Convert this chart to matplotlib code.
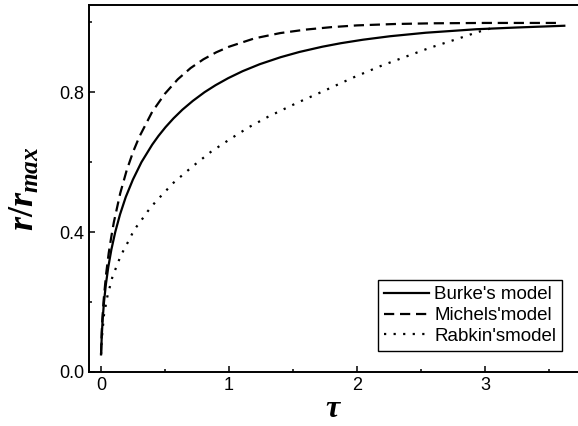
import matplotlib
matplotlib.use("Agg")
import matplotlib.pyplot as plt
from matplotlib.ticker import MultipleLocator

# datos (tau, r/rmax)
tau_burke = [0.0, 0.0054, 0.0125, 0.0231, 0.0377, 0.0567, 0.0808, 0.111, 0.148,
             0.193, 0.249, 0.316, 0.40, 0.449, 0.504, 0.566, 0.636, 0.717, 0.809,
             0.895, 0.993, 1.106, 1.240, 1.403, 1.550, 1.729, 1.873, 2.046, 2.259,
             2.537, 2.932, 3.25, 3.62]
r_burke = [0.05, 0.10, 0.15, 0.20, 0.25, 0.30, 0.35, 0.40, 0.45,
           0.50, 0.55, 0.60, 0.65, 0.675, 0.70, 0.725, 0.75, 0.775, 0.80,
           0.82, 0.84, 0.86, 0.88, 0.90, 0.915, 0.93, 0.94, 0.95, 0.96,
           0.97, 0.98, 0.985, 0.99]

tau_michels = [0.0, 0.005, 0.01, 0.02, 0.04, 0.06, 0.08, 0.1, 0.15, 0.2, 0.25, 0.3,
               0.4, 0.5, 0.6, 0.7, 0.8, 0.9, 1.0, 1.2, 1.4, 1.6, 1.8, 2.0, 2.3, 2.6,
               3.0, 3.3, 3.6]
r_michels = [0.05, 0.112, 0.149, 0.204, 0.281, 0.340, 0.386, 0.428, 0.511, 0.576,
             0.629, 0.673, 0.744, 0.796, 0.837, 0.869, 0.894, 0.914, 0.930, 0.954,
             0.969, 0.979, 0.986, 0.991, 0.995, 0.997, 0.998, 0.998, 0.998]

tau_rabkin = [0.0, 0.005, 0.023, 0.049, 0.089, 0.115, 0.146, 0.18, 0.219, 0.258,
              0.31, 0.362, 0.427, 0.492, 0.56, 0.713, 0.857, 1.013, 1.156, 1.307,
              1.529, 1.75, 1.971, 2.193, 2.414, 2.57, 2.79, 2.935, 3.05]
r_rabkin = [0.05, 0.09, 0.163, 0.215, 0.272, 0.296, 0.325, 0.351, 0.377, 0.406,
            0.431, 0.458, 0.487, 0.512, 0.539, 0.587, 0.629, 0.667, 0.70, 0.73,
            0.769, 0.805, 0.842, 0.876, 0.906, 0.927, 0.953, 0.971, 0.983]

plt.rcParams["mathtext.fontset"] = "custom"
plt.rcParams["mathtext.it"] = "Liberation Serif:italic:bold"
plt.rcParams["mathtext.rm"] = "Liberation Serif:bold"
plt.rcParams["font.family"] = "Liberation Sans"

fig = plt.figure(figsize=(5.78, 4.26), dpi=100)
ax = fig.add_axes([0.154, 0.127, 0.846, 0.861])

ax.plot(tau_burke, r_burke, color="black", lw=1.6, ls="-", label="Burke's model")
ax.plot(tau_michels, r_michels, color="black", lw=1.6, ls=(0, (4.6, 2.6)), label="Michels'model")
ax.plot(tau_rabkin, r_rabkin, color="black", lw=1.6, ls=(0, (1, 3.3)), label="Rabkin'smodel")

ax.set_xlim(-0.094, 3.727)
ax.set_ylim(0, 1.049)
ax.xaxis.set_major_locator(MultipleLocator(1))
ax.xaxis.set_minor_locator(MultipleLocator(0.5))
ax.yaxis.set_major_locator(MultipleLocator(0.4))
ax.yaxis.set_minor_locator(MultipleLocator(0.2))
ax.tick_params(which="major", direction="in", length=4, width=1.1, labelsize=13)
ax.tick_params(which="minor", direction="in", length=2.5, width=1.1)

ax.spines["right"].set_visible(False)
for s in ["left", "bottom", "top"]:
    ax.spines[s].set_linewidth(1.4)

ax.set_xlabel(r"$\tau$", fontsize=23, labelpad=0)
ax.set_ylabel(r"$r/r_{max}$", fontsize=26, labelpad=12)

leg = ax.legend(loc="lower right", bbox_to_anchor=(0.967, 0.058), borderaxespad=0,
                fontsize=13.5, handlelength=2.4, labelspacing=0.2, fancybox=False,
                edgecolor="black", framealpha=1, borderpad=0.3, handletextpad=0.3)
leg.get_frame().set_linewidth(1.0)

fig.savefig("out.png", dpi=100)
